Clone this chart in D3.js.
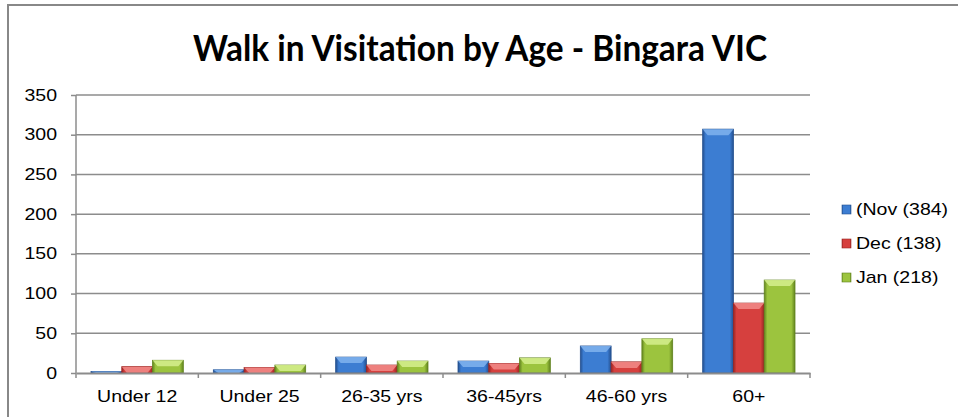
<!DOCTYPE html>
<html>
<head>
<meta charset="utf-8">
<script src="https://cdn.jsdelivr.net/npm/d3@7"></script>
<style>
  body { margin: 0; background: #fff; }
  svg { display: block; }
</style>
</head>
<body>
<div id="chart"></div>
<script>
// data
var ageGroups = ["Under 12", "Under 25", "26-35 yrs", "36-45yrs", "46-60 yrs", "60+"];
var seriesNames = ["(Nov (384)", "Dec (138)", "Jan (218)"];
var novValues = [2, 4, 20, 15, 34, 307];
var decValues = [8, 7, 10, 12, 14, 88];
var janValues = [16, 10, 15, 19, 43, 117];
var yTicks = [0, 50, 100, 150, 200, 250, 300, 350];

var seriesValues = [novValues, decValues, janValues];
var colors = [
  {base: "#3c7dd2", dark: "#24508f", light: "#80b3ee"},
  {base: "#d6403e", dark: "#9a2523", light: "#f28c8a"},
  {base: "#9cc43e", dark: "#62841f", light: "#d6f08e"}
];

var W = 958, H = 417;
var margin = {top: 95, left: 76, right: 148, bottom: 44};
var width = W - margin.left - margin.right;
var height = H - margin.top - margin.bottom;
var stretch = 1.22; // the source picture is widened horizontally
var labelFont = "'Liberation Sans', Arial, sans-serif";

var svg = d3.select("#chart").append("svg")
  .attr("width", W).attr("height", H);

// outer chart border
svg.append("path")
  .attr("d", "M8," + H + " L8,5 L" + W + ",5")
  .attr("fill", "none").attr("stroke", "#888").attr("stroke-width", 2);

// title
svg.append("text")
  .attr("x", 480).attr("y", 61)
  .attr("text-anchor", "middle")
  .attr("font-family", "Lato, 'Open Sans', sans-serif")
  .attr("font-weight", "bold")
  .attr("font-size", 36)
  .attr("textLength", 574)
  .attr("lengthAdjust", "spacingAndGlyphs")
  .text("Walk in Visitation by Age - Bingara VIC");

var defs = svg.append("defs");
colors.forEach(function(c, i) {
  var g = defs.append("linearGradient").attr("id", "grad" + i)
    .attr("x1", 0).attr("x2", 1).attr("y1", 0).attr("y2", 0);
  g.append("stop").attr("offset", "0%").attr("stop-color", c.dark);
  g.append("stop").attr("offset", "10%").attr("stop-color", c.base);
  g.append("stop").attr("offset", "88%").attr("stop-color", c.base);
  g.append("stop").attr("offset", "100%").attr("stop-color", c.dark);
});

var plot = svg.append("g").attr("transform", "translate(" + margin.left + "," + margin.top + ")");

var x0 = d3.scaleBand().domain(ageGroups).range([0, width]).paddingInner(0).paddingOuter(0);
var x1 = d3.scaleBand().domain([0, 1, 2]).range([15, x0.bandwidth() - 15]).padding(0);
var y = d3.scaleLinear().domain([0, 350]).range([height, 0]);

// gridlines
plot.selectAll("line.grid").data(yTicks.slice(1)).enter().append("line")
  .attr("class", "grid")
  .attr("x1", 0).attr("x2", width)
  .attr("y1", function(d) { return y(d); })
  .attr("y2", function(d) { return y(d); })
  .attr("stroke", "#8c8c8c").attr("stroke-width", 1.5);

// y axis
var yAxis = plot.append("g")
  .call(d3.axisLeft(y).tickValues(yTicks).tickSize(5));
yAxis.select(".domain").attr("stroke", "#8c8c8c").attr("stroke-width", 1.5).attr("d", "M0," + y(0) + "V" + y(350));
yAxis.selectAll(".tick line").attr("stroke", "#8c8c8c").attr("stroke-width", 1.5);
yAxis.selectAll("text")
  .attr("x", 0)
  .attr("transform", "translate(-19,0) scale(" + stretch + ",1)")
  .attr("font-family", labelFont)
  .attr("font-size", 16).attr("fill", "#000");

// bars
var groups = plot.selectAll("g.grp").data(ageGroups).enter().append("g")
  .attr("class", "grp")
  .attr("transform", function(d) { return "translate(" + x0(d) + ",0)"; });

groups.each(function(cat, ci) {
  var g = d3.select(this);
  seriesValues.forEach(function(vals, si) {
    var v = vals[ci];
    var bx = x1(si), bw = x1.bandwidth(), by = y(v), bh = y(0) - y(v);
    g.append("rect")
      .attr("x", bx).attr("y", by).attr("width", bw).attr("height", bh)
      .attr("fill", "url(#grad" + si + ")")
      .attr("stroke", colors[si].dark).attr("stroke-width", 0.8);
    // bevelled top highlight
    var bev = Math.min(6, bh);
    g.append("path")
      .attr("d", "M" + bx + "," + by + "L" + (bx + bw) + "," + by +
        "L" + (bx + bw - 5) + "," + (by + bev) + "L" + (bx + 5) + "," + (by + bev) + "Z")
      .attr("fill", colors[si].light).attr("opacity", 0.85);
  });
});

// x axis
var xAxis = plot.append("g").attr("transform", "translate(0," + height + ")")
  .call(d3.axisBottom(x0).tickSize(0).tickPadding(18));
xAxis.select(".domain").attr("stroke", "#8c8c8c").attr("stroke-width", 2);
xAxis.selectAll("text")
  .attr("transform", "scale(" + stretch + ",1)")
  .attr("font-family", labelFont)
  .attr("font-size", 16).attr("fill", "#000");
plot.selectAll("line.xtick").data(d3.range(ageGroups.length + 1)).enter().append("line")
  .attr("class", "xtick")
  .attr("x1", function(i) { return i * x0.step(); })
  .attr("x2", function(i) { return i * x0.step(); })
  .attr("y1", height).attr("y2", height + 5)
  .attr("stroke", "#8c8c8c").attr("stroke-width", 1.5);

// legend
var legend = svg.append("g").attr("transform", "translate(842,205)");
seriesNames.forEach(function(name, i) {
  var row = legend.append("g").attr("transform", "translate(0," + (i * 34) + ")");
  row.append("rect").attr("x", 0).attr("y", 0).attr("width", 9).attr("height", 9)
    .attr("fill", "url(#grad" + i + ")").attr("stroke", colors[i].dark).attr("stroke-width", 0.6);
  row.append("text")
    .attr("transform", "translate(14,10) scale(" + stretch + ",1)")
    .attr("font-family", labelFont)
    .attr("font-size", 16).attr("fill", "#000")
    .text(name);
});
</script>
</body>
</html>
